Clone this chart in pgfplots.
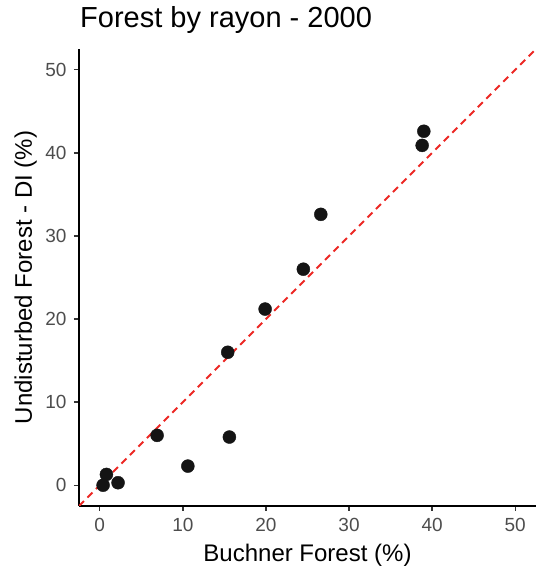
\documentclass[border=0pt]{standalone}
\usepackage{fontspec}
\setmainfont{Liberation Sans}
\usepackage{pgfplots}
\pgfplotsset{compat=1.18}

\definecolor{refline}{RGB}{236,40,36}
\definecolor{ticktext}{RGB}{77,77,77}

\begin{document}
\begin{tikzpicture}[x=1pt,y=1pt]
\path[use as bounding box] (0,0) rectangle (536,571);
\node[anchor=base west, inner sep=0pt, font=\fontsize{29}{30}\selectfont] at (80,543) {Forest by rayon - 2000};
\begin{axis}[
    at={(79pt,65pt)}, anchor=south west,
    scale only axis,
    width=457pt, height=457pt,
    xmin=-2.5, xmax=52.5,
    ymin=-2.5, ymax=52.5,
    xtick={0,10,...,50},
    ytick={0,10,...,50},
    axis x line*=bottom,
    axis y line*=left,
    axis line style={black, line width=1.5pt, -},
    tick style={black!80, line width=1.4pt},
    tick align=outside,
    major tick length=5pt,
    minor tick num=0,
    /pgf/number format/assume math mode=true,
    ticklabel style={font=\fontsize{19}{19}\selectfont, text=ticktext},
    xticklabel style={yshift=-4pt},
    yticklabel style={xshift=-4pt},
    xlabel={Buchner Forest (\%)},
    ylabel={Undisturbed Forest - DI (\%)},
    xlabel style={at={(axis description cs:0.5,-0.1225)}, anchor=base, font=\fontsize{24}{24}\selectfont},
    ylabel style={at={(axis description cs:-0.103,0.5)}, anchor=base, font=\fontsize{24}{24}\selectfont},
    clip=true,
]
\addplot[refline, line width=2pt, dash pattern=on 7pt off 5pt] coordinates {(-2.5,-2.5) (52.5,52.5)};
\addplot[only marks, mark=*, mark size=6.5pt, mark options={fill=black!92, draw=black!92}] coordinates {
    (0.4,0.0)
    (0.8,1.3)
    (2.2,0.3)
    (6.9,6.0)
    (10.6,2.3)
    (15.4,16.0)
    (15.6,5.8)
    (19.9,21.2)
    (24.5,26.0)
    (26.6,32.6)
    (38.8,40.9)
    (39.0,42.6)
};
\end{axis}
\end{tikzpicture}
\end{document}
